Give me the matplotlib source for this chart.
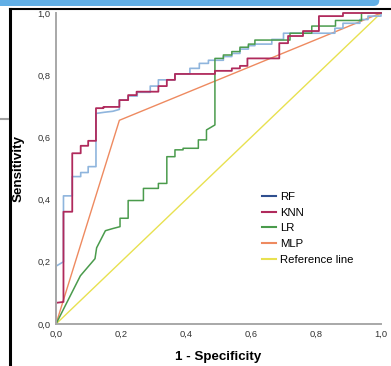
import matplotlib
matplotlib.use("Agg")
import matplotlib.pyplot as plt
from matplotlib.lines import Line2D
from matplotlib.patches import FancyBboxPatch

plt.rcParams['font.family'] = ['Liberation Sans', 'DejaVu Sans']

# ROC curve vertices (1 - specificity, sensitivity)
rf_fpr = [0, 0, 0.023, 0.023, 0.05, 0.05, 0.076, 0.076, 0.099, 0.099, 0.123, 0.123,
          0.15, 0.175, 0.195, 0.195, 0.222, 0.222, 0.25, 0.25, 0.29, 0.29, 0.315, 0.315,
          0.366, 0.366, 0.412, 0.412, 0.441, 0.441, 0.469, 0.469, 0.515, 0.515, 0.541,
          0.541, 0.566, 0.566, 0.592, 0.592, 0.612, 0.612, 0.664, 0.664, 0.70, 0.70,
          0.858, 0.858, 0.883, 0.883, 0.935, 0.935, 0.96, 0.96, 1.0, 1.0]
rf_tpr = [0, 0.186, 0.20, 0.412, 0.412, 0.474, 0.474, 0.487, 0.487, 0.506, 0.506, 0.677,
          0.681, 0.684, 0.69, 0.72, 0.72, 0.733, 0.733, 0.745, 0.745, 0.765, 0.765, 0.785,
          0.785, 0.804, 0.804, 0.822, 0.822, 0.838, 0.838, 0.848, 0.848, 0.86, 0.86,
          0.87, 0.87, 0.884, 0.884, 0.895, 0.895, 0.90, 0.90, 0.915, 0.915, 0.935,
          0.935, 0.951, 0.951, 0.967, 0.967, 0.979, 0.979, 0.99, 0.99, 1.0]

knn_fpr = [0, 0, 0.023, 0.023, 0.05, 0.05, 0.076, 0.076, 0.099, 0.099, 0.123, 0.123,
           0.146, 0.146, 0.195, 0.195, 0.222, 0.222, 0.248, 0.248, 0.315, 0.315, 0.341,
           0.341, 0.366, 0.366, 0.489, 0.489, 0.541, 0.541, 0.566, 0.566, 0.589, 0.589,
           0.687, 0.687, 0.714, 0.714, 0.76, 0.76, 0.809, 0.809, 0.883, 0.883, 1.0]
knn_tpr = [0, 0.068, 0.071, 0.361, 0.361, 0.549, 0.549, 0.573, 0.573, 0.589, 0.589, 0.694,
           0.694, 0.698, 0.698, 0.72, 0.72, 0.736, 0.736, 0.747, 0.747, 0.765, 0.765,
           0.785, 0.785, 0.804, 0.804, 0.814, 0.814, 0.822, 0.822, 0.83, 0.83, 0.854,
           0.854, 0.903, 0.903, 0.926, 0.926, 0.942, 0.942, 0.99, 0.99, 1.0, 1.0]

lr_fpr = [0, 0.075, 0.12, 0.125, 0.152, 0.175, 0.197, 0.197, 0.222, 0.222, 0.269, 0.269,
          0.315, 0.315, 0.341, 0.341, 0.366, 0.366, 0.391, 0.391, 0.438, 0.438, 0.463,
          0.463, 0.489, 0.489, 0.515, 0.515, 0.541, 0.541, 0.566, 0.566, 0.592, 0.592,
          0.612, 0.612, 0.72, 0.72, 0.787, 0.787, 0.86, 0.86, 0.94, 0.94, 1.0]
lr_tpr = [0, 0.155, 0.21, 0.245, 0.30, 0.307, 0.313, 0.34, 0.34, 0.397, 0.397, 0.436,
          0.436, 0.452, 0.452, 0.538, 0.538, 0.56, 0.56, 0.565, 0.565, 0.592, 0.592,
          0.624, 0.64, 0.854, 0.854, 0.865, 0.865, 0.876, 0.876, 0.89, 0.89, 0.90,
          0.90, 0.913, 0.913, 0.935, 0.935, 0.958, 0.958, 0.976, 0.976, 1.0, 1.0]

mlp_fpr = [0, 0.195, 1.0]
mlp_tpr = [0, 0.655, 1.0]

ref_line = [0, 1]

labels = ['RF', 'KNN', 'LR', 'MLP', 'Reference line']
line_colors = ['#8fb5dd', '#b02a5c', '#4a9b4c', '#ee8a60', '#e8e150']
legend_colors = ['#2f4f8f', '#b02a5c', '#4a9b4c', '#ee8a60', '#e8e150']

W, H = 391, 366
fig = plt.figure(figsize=(W / 100, H / 100), dpi=100)
ax = fig.add_axes([56 / W, 1 - 324 / H, 325 / W, 311 / H])

ax.plot(ref_line, ref_line, color=line_colors[4], lw=1.0, clip_on=False)
ax.plot(mlp_fpr, mlp_tpr, color=line_colors[3], lw=1.0, clip_on=False)
ax.plot(rf_fpr, rf_tpr, color=line_colors[0], lw=1.2, clip_on=False)
ax.plot(lr_fpr, lr_tpr, color=line_colors[2], lw=1.1, clip_on=False)
ax.plot(knn_fpr, knn_tpr, color=line_colors[1], lw=1.3, clip_on=False)

ax.set_xlim(0, 1)
ax.set_ylim(0, 1)
ticks = [0, 0.2, 0.4, 0.6, 0.8, 1.0]
tick_labels = ['0,0', '0,2', '0,4', '0,6', '0,8', '1,0']
ax.set_xticks(ticks)
ax.set_xticklabels(tick_labels)
ax.set_yticks(ticks)
ax.set_yticklabels(tick_labels)
ax.tick_params(length=0, labelsize=6.7, labelcolor='#333333', pad=4)

for s in ['top', 'right']:
    ax.spines[s].set_visible(False)
for s in ['left', 'bottom']:
    ax.spines[s].set_color('#a8a8a8')
    ax.spines[s].set_linewidth(1.4)

ax.set_xlabel('1 - Specificity', fontsize=9.6, fontweight='bold', labelpad=9)
ax.set_ylabel('Sensitivity', fontsize=9.6, fontweight='bold', labelpad=9)

handles = [Line2D([], [], color=c, lw=1.5) for c in legend_colors]
ax.legend(handles, labels, loc='upper left', frameon=False, fontsize=8.2,
          bbox_to_anchor=(262 / W, 1 - 192 / H), bbox_transform=fig.transFigure,
          borderaxespad=0, borderpad=0, handlelength=1.25, handletextpad=0.3,
          labelspacing=0.5)

# screenshot frame around the chart
fig.add_artist(FancyBboxPatch((-0.02, 1 - 6 / H), 0.99, 0.05,
                              boxstyle='round,pad=0,rounding_size=0.015',
                              transform=fig.transFigure, color='#62afe6', lw=0))
fig.add_artist(Line2D([10 / W, 1], [1 - 9 / H, 1 - 9 / H], color='black', lw=1.5,
                      transform=fig.transFigure))
fig.add_artist(Line2D([10 / W, 10 / W], [0, 1 - 9 / H], color='black', lw=2.2,
                      transform=fig.transFigure))
fig.add_artist(Line2D([0, 8 / W], [1 - 119 / H, 1 - 119 / H], color='#a0a0a0', lw=1.5,
                      transform=fig.transFigure))

fig.savefig('out.png', dpi=100)
